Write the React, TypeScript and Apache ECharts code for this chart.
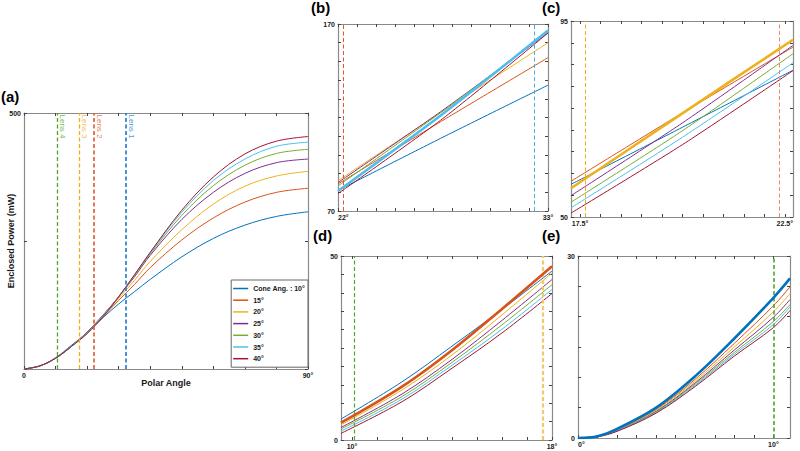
import React, { useEffect, useRef } from 'react';
import * as echarts from 'echarts';

const FONT = '"Liberation Sans", Arial, Helvetica, sans-serif';

// ---------- data ----------
const coneAngles = ['Cone Ang. : 10°', '15°', '20°', '25°', '30°', '35°', '40°'];
const coneColors = ['#0072BD', '#D95319', '#EDB120', '#7E2F8E', '#77AC30', '#4DBEEE', '#A2142F'];

// (a) full range
const aAngles = [0, 5, 10, 15, 20, 25, 30, 35, 40, 50, 60, 70, 80, 90];
const aP10 = [0, 6, 22, 46, 71, 100, 127, 151, 175, 219, 255, 281, 298, 307];
const aP15 = [0, 6, 21, 44, 72, 102, 134, 165, 198, 252, 295, 326, 345, 353];
const aP20 = [0, 6, 21, 44, 72, 104, 138, 173, 210, 272, 322, 357, 377, 386];
const aP25 = [0, 6, 21, 44, 72, 105, 141, 180, 222, 292, 345, 382, 403, 410];
const aP30 = [0, 6, 21, 44, 71, 104, 141, 182, 225, 300, 358, 398, 421, 429];
const aP35 = [0, 6, 21, 44, 70, 103, 141, 183, 227, 306, 368, 410, 435, 443];
const aP40 = [0, 6, 21, 44, 69, 102, 141, 184, 228, 310, 375, 420, 445, 454];
const aLensAngles = [32.2, 22.1, 17.5, 10.4];
const aLensNames = ['Lens 1', 'Lens 2', 'Lens 3', 'Lens 4'];

// (b)
const bAngles = [22, 27.5, 33];
const bP10 = [81.0, 109.5, 137.3];
const bP15 = [84.5, 118.5, 152.0];
const bP20 = [86.2, 123.5, 160.0];
const bP25 = [85.2, 124.0, 165.3];
const bP30 = [83.4, 123.5, 165.8];
const bP35 = [80.7, 122.0, 166.5];
const bP40 = [79.3, 119.5, 165.2];
const bLensAngles = [22.26, 32.26];

// (c)
const cAngles = [17.28, 20, 22.7];
const cP10 = [57.5, 70.6, 83.7];
const cP15 = [58.2, 73.9, 89.0];
const cP20 = [56.6, 73.8, 90.7];
const cP25 = [54.9, 71.6, 89.4];
const cP30 = [53.4, 69.8, 87.5];
const cP35 = [52.1, 68.3, 85.4];
const cP40 = [50.9, 66.6, 83.6];
const cLensAngles = [17.64, 22.36];

// (d)
const dAngles = [9.56, 12, 14, 16, 18];
const dP10 = [5.7, 15.8, 25.5, 35.5, 45.9];
const dP15 = [4.7, 14.5, 24.4, 35.6, 47.2];
const dP20 = [4.1, 13.6, 23.1, 34.0, 45.4];
const dP25 = [3.4, 12.5, 21.9, 32.5, 43.6];
const dP30 = [3.0, 11.8, 21.1, 31.3, 42.2];
const dP35 = [2.4, 11.1, 20.3, 30.1, 40.9];
const dP40 = [1.8, 10.4, 19.5, 29.1, 39.8];
const dLensAngles = [10.1, 17.64];

// (e)
const eAngles = [0, 1, 2, 4, 6, 8, 10, 10.85];
const eP10 = [0, 0.3, 1.5, 5.0, 10.2, 16.4, 23.1, 26.3];
const eP15 = [0, 0.3, 1.3, 4.7, 9.7, 15.6, 21.8, 24.9];
const eP20 = [0, 0.3, 1.3, 4.6, 9.4, 15.0, 20.8, 23.8];
const eP25 = [0, 0.3, 1.2, 4.4, 9.1, 14.5, 19.9, 22.8];
const eP30 = [0, 0.3, 1.2, 4.3, 8.9, 14.1, 19.2, 22.0];
const eP35 = [0, 0.3, 1.2, 4.2, 8.7, 13.8, 18.7, 21.6];
const eP40 = [0, 0.2, 1.1, 4.1, 8.5, 13.5, 18.2, 21.0];
const eLensAngles = [10.04];

// tick positions / labels
const aXTicks = [0, 10, 20, 30, 40, 50, 60, 70, 80, 90];
const aXLabels = [0, 90];
const aYLabels = [500];
const bXTicks = [22, 23, 24, 25, 26, 27, 28, 29, 30, 31, 32, 33];
const bXLabels = [22, 33];
const bYLabels = [70, 170];
const cXTicks = [17.5, 18, 18.5, 19, 19.5, 20, 20.5, 21, 21.5, 22, 22.5];
const cXLabels = [17.5, 22.5];
const cYLabels = [50, 95];
const dXTicks = [10, 11, 12, 13, 14, 15, 16, 17, 18];
const dXLabels = [10, 18];
const dYLabels = [0, 50];
const eXTicks = [0, 1, 2, 3, 4, 5, 6, 7, 8, 9, 10];
const eXLabels = [0, 10];
const eYLabels = [0, 30];

// ---------- layout / style ----------
const AX = '#8a8a8a';
const TK = '#444';
const TXT = '#1a1a1a';

const panels: any[] = [
  {
    grid: { left: 24, top: 113, width: 284, height: 256 },
    xMin: 0, xMax: 90, xTicks: aXTicks, xLabels: aXLabels,
    xFmt: (v: number) => (v === 0 ? '0' : v + '°'),
    yMin: 0, yMax: 500, yInterval: 250, yLabels: aYLabels,
    xs: aAngles, ys: [aP10, aP15, aP20, aP25, aP30, aP35, aP40], thick: -1, smooth: 0.35,
    lens: [
      { x: aLensAngles[0], color: '#1a78cf', width: 1.6 },
      { x: aLensAngles[1], color: '#e2572b', width: 1.6 },
      { x: aLensAngles[2], color: '#f0ad1c', width: 1.3 },
      { x: aLensAngles[3], color: '#4fa52a', width: 1.3 },
    ],
  },
  {
    grid: { left: 338, top: 24, width: 210, height: 187 },
    xMin: 22, xMax: 33, xTicks: bXTicks, xLabels: bXLabels,
    xFmt: (v: number) => v + '°', minAlign: 'left',
    yMin: 70, yMax: 170, yInterval: 10, yLabels: bYLabels,
    xs: bAngles, ys: [bP10, bP15, bP20, bP25, bP30, bP35, bP40], thick: 5, smooth: 0.25,
    lens: [
      { x: bLensAngles[0], color: '#e2572b', width: 1 },
      { x: bLensAngles[1], color: '#4aaee6', width: 1 },
    ],
  },
  {
    grid: { left: 571, top: 21, width: 222, height: 196 },
    xMin: 17.28, xMax: 22.7, xTicks: cXTicks, xLabels: cXLabels,
    xFmt: (v: number) => v + '°',
    yMin: 50, yMax: 95, yInterval: 5, yLabels: cYLabels,
    xs: cAngles, ys: [cP10, cP15, cP20, cP25, cP30, cP35, cP40], thick: 2, smooth: 0.25,
    lens: [
      { x: cLensAngles[0], color: '#f0ad1c', width: 1 },
      { x: cLensAngles[1], color: '#f08866', width: 1 },
    ],
  },
  {
    grid: { left: 341, top: 256, width: 211, height: 184 },
    xMin: 9.56, xMax: 18, xTicks: dXTicks, xLabels: dXLabels,
    xFmt: (v: number) => v + '°',
    yMin: 0, yMax: 50, yInterval: 5, yLabels: dYLabels,
    xs: dAngles, ys: [dP10, dP15, dP20, dP25, dP30, dP35, dP40], thick: 1, smooth: 0.35,
    lens: [
      { x: dLensAngles[0], color: '#4fa52a', width: 1.2 },
      { x: dLensAngles[1], color: '#f5c66a', width: 2.2 },
    ],
  },
  {
    grid: { left: 578, top: 256, width: 212, height: 182 },
    xMin: 0, xMax: 10.85, xTicks: eXTicks, xLabels: eXLabels,
    xFmt: (v: number) => v + '°', minAlign: 'left',
    yMin: 0, yMax: 30, yInterval: 5, yLabels: eYLabels,
    xs: eAngles, ys: [eP10, eP15, eP20, eP25, eP30, eP35, eP40], thick: 0, smooth: 0.35,
    lens: [{ x: eLensAngles[0], color: '#4fa52a', width: 1.6 }],
  },
];

const labelStyle = { fontSize: 7, fontWeight: 'bold', color: TXT, fontFamily: FONT };

function buildOption() {
  const xAxis: any[] = [];
  const yAxis: any[] = [];
  const series: any[] = [];

  panels.forEach((p, i) => {
    const common = { type: 'value', gridIndex: i, splitLine: { show: false } };
    xAxis.push({
      ...common,
      position: 'bottom',
      min: p.xMin,
      max: p.xMax,
      axisLine: { show: true, onZero: false, lineStyle: { color: AX, width: 1.2 } },
      axisTick: { show: true, inside: true, length: 3, customValues: p.xTicks, lineStyle: { color: TK, width: 1 } },
      axisLabel: {
        show: true,
        customValues: p.xLabels,
        formatter: p.xFmt,
        margin: 3,
        alignMinLabel: p.minAlign,
        ...labelStyle,
      },
      ...(i === 0
        ? {
            name: 'Polar Angle',
            nameLocation: 'middle',
            nameGap: 9,
            nameMoveOverlap: false,
            nameTextStyle: { fontSize: 9, fontWeight: 'bold', color: TXT, fontFamily: FONT },
          }
        : {}),
    });
    xAxis.push({
      ...common,
      position: 'top',
      min: p.xMin,
      max: p.xMax,
      axisLine: { show: true, onZero: false, lineStyle: { color: AX, width: 1.2 } },
      axisTick: { show: true, inside: true, length: 3, customValues: p.xTicks, lineStyle: { color: TK, width: 1 } },
      axisLabel: { show: false },
    });
    yAxis.push({
      ...common,
      position: 'left',
      min: p.yMin,
      max: p.yMax,
      interval: p.yInterval,
      axisLine: { show: true, onZero: false, lineStyle: { color: AX, width: 1.2 } },
      axisTick: { show: true, inside: true, length: 3, lineStyle: { color: TK, width: 1 } },
      axisLabel: { show: true, customValues: p.yLabels, margin: 3, ...labelStyle },
      ...(i === 0
        ? {
            name: 'Enclosed Power (mW)',
            nameLocation: 'middle',
            nameGap: 9,
            nameMoveOverlap: false,
            nameTextStyle: { fontSize: 9, fontWeight: 'bold', color: TXT, fontFamily: FONT },
          }
        : {}),
    });
    yAxis.push({
      ...common,
      position: 'right',
      min: p.yMin,
      max: p.yMax,
      interval: p.yInterval,
      axisLine: { show: true, onZero: false, lineStyle: { color: AX, width: 1.2 } },
      axisTick: { show: true, inside: true, length: 3, lineStyle: { color: TK, width: 1 } },
      axisLabel: { show: false },
    });

    p.ys.forEach((vals: number[], k: number) => {
      const thick = k === p.thick;
      series.push({
        type: 'line',
        name: coneAngles[k],
        xAxisIndex: 2 * i,
        yAxisIndex: 2 * i,
        data: p.xs.map((x: number, j: number) => [x, vals[j]]),
        symbol: 'none',
        showSymbol: false,
        smooth: p.smooth,
        color: coneColors[k],
        lineStyle: { color: coneColors[k], width: thick ? 2.6 : 1 },
        z: thick ? 5 : 3,
        silent: true,
        ...(k === 0
          ? {
              markLine: {
                silent: true,
                symbol: ['none', 'none'],
                label: { show: false },
                data: p.lens.map((l: any) => ({
                  xAxis: l.x,
                  lineStyle: { color: l.color, width: l.width, type: [4, 2.5] },
                })),
              },
            }
          : {}),
      });
    });
  });

  // Lens labels in (a)
  series.push({
    type: 'scatter',
    xAxisIndex: 0,
    yAxisIndex: 0,
    symbol: 'circle',
    symbolSize: 1,
    itemStyle: { color: 'rgba(0,0,0,0)' },
    silent: true,
    z: 6,
    data: aLensAngles.map((x, k) => ({
      value: [x, 500],
      name: aLensNames[k],
      label: { color: panels[0].lens[k].color },
    })),
    label: {
      show: true,
      formatter: '{b}',
      rotate: -90,
      position: [2, 2],
      align: 'left',
      verticalAlign: 'bottom',
      fontSize: 8,
      fontFamily: FONT,
    },
  });

  const panelLabel = (t: string, left: number, top: number) => ({
    type: 'text',
    left,
    top,
    style: { text: t, fontSize: 15, fontWeight: 'bold', fontFamily: FONT, fill: '#000' },
  });

  return {
    animation: false,
    backgroundColor: '#ffffff',
    textStyle: { fontFamily: FONT },
    grid: panels.map((p) => ({ ...p.grid, containLabel: false })),
    xAxis,
    yAxis,
    legend: {
      data: coneAngles.map((n, k) => ({ name: n, icon: 'rect', itemStyle: { color: coneColors[k] } })),
      orient: 'vertical',
      right: 800 - 308,
      top: 280,
      itemWidth: 15,
      itemHeight: 1.5,
      itemGap: 2.7,
      padding: [4, 3, 4, 2],
      borderColor: '#666',
      borderWidth: 1,
      backgroundColor: '#fff',
      selectedMode: false,
      textStyle: { fontSize: 7, fontWeight: 'bold', color: TXT, fontFamily: FONT, lineHeight: 9, height: 9 },
    },
    series,
    graphic: [
      panelLabel('(a)', 1, 89),
      panelLabel('(b)', 311, 0),
      panelLabel('(c)', 542, 0),
      panelLabel('(d)', 313, 228),
      panelLabel('(e)', 542, 228),
    ],
  };
}

export default function App() {
  const ref = useRef<HTMLDivElement>(null);
  useEffect(() => {
    if (!ref.current) return;
    const chart = echarts.init(ref.current, null, { renderer: 'svg' });
    chart.setOption(buildOption() as any);
    return () => chart.dispose();
  }, []);
  return (
    <div
      ref={ref}
      style={{ position: 'fixed', left: 0, top: 0, width: 800, height: 451, background: '#fff' }}
    />
  );
}
